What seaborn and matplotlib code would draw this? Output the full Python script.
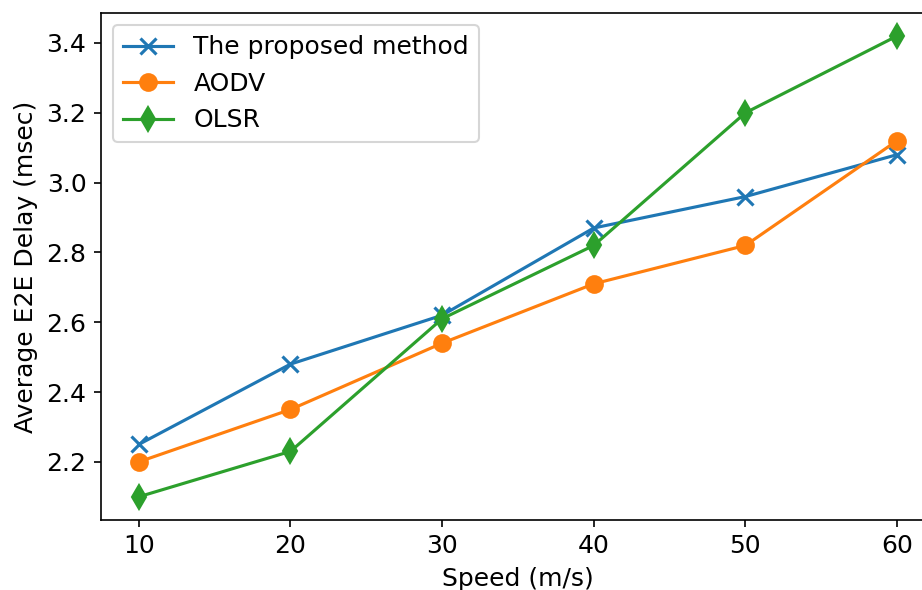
import matplotlib
matplotlib.use("Agg")
import matplotlib.pyplot as plt
import seaborn as sns
import pandas as pd

# Dados
velocidade = [10, 20, 30, 40, 50, 60]
proposto = [2.25, 2.48, 2.62, 2.87, 2.96, 3.08]
aodv = [2.20, 2.35, 2.54, 2.71, 2.82, 3.12]
olsr = [2.10, 2.23, 2.61, 2.82, 3.20, 3.42]

series = ["The proposed method", "AODV", "OLSR"]
marcadores = ["x", "o", "d"]
cores = ["#1f77b4", "#ff7f0e", "#2ca02c"]

df = pd.DataFrame({"Speed": velocidade,
                   series[0]: proposto,
                   series[1]: aodv,
                   series[2]: olsr})

fig, ax = plt.subplots(figsize=(922 / 150, 590 / 150), dpi=150)
# o eixo da direita fica cortado na figura original
fig.subplots_adjust(left=0.1095, right=1.014, top=0.978, bottom=0.119)

for nome, m, c in zip(series, marcadores, cores):
    sns.lineplot(data=df, x="Speed", y=nome, marker=m, color=c,
                 markersize=8, linewidth=1.5, label=nome, ax=ax,
                 markeredgecolor=c, markeredgewidth=1.5 if m == "x" else 1)

ax.set_xlabel("Speed (m/s)", fontsize=12)
ax.set_ylabel("Average E2E Delay (msec)", fontsize=12)
ax.set_xticks(velocidade)
ax.set_yticks([2.2, 2.4, 2.6, 2.8, 3.0, 3.2, 3.4])
ax.tick_params(labelsize=12)
ax.legend(loc="upper left", fontsize=12)

plt.savefig("out.png", dpi=150)
